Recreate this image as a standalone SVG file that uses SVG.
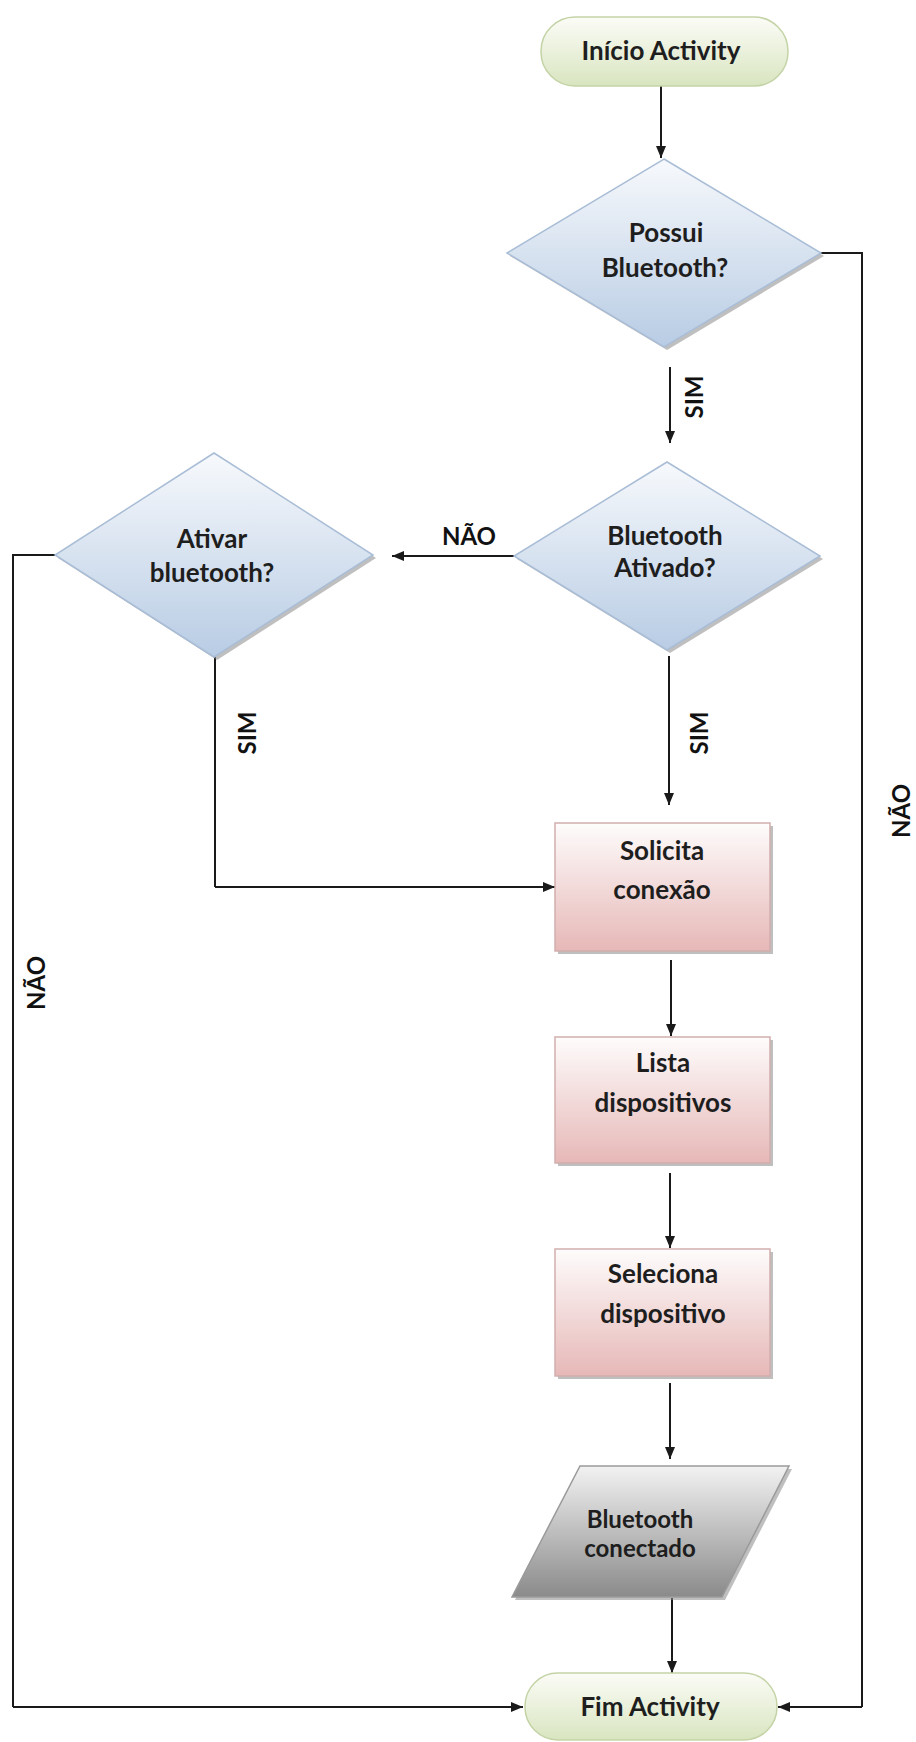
<svg xmlns="http://www.w3.org/2000/svg" width="916" height="1742" viewBox="0 0 916 1742">
<defs>
<linearGradient id="gTerm" x1="0" y1="0" x2="0" y2="1"><stop offset="0" stop-color="#fbfcf7"/><stop offset="1" stop-color="#d9e5c0"/></linearGradient>
<linearGradient id="gDia" x1="0" y1="0" x2="0" y2="1"><stop offset="0" stop-color="#f7f9fc"/><stop offset="1" stop-color="#b8cce4"/></linearGradient>
<linearGradient id="gRect" x1="0" y1="0" x2="0" y2="1"><stop offset="0" stop-color="#fefcfc"/><stop offset="1" stop-color="#e6b8b7"/></linearGradient>
<linearGradient id="gPar" x1="0" y1="0" x2="0" y2="1"><stop offset="0" stop-color="#f2f2f2"/><stop offset="1" stop-color="#8a8a8a"/></linearGradient>
<marker id="ah" viewBox="0 0 12 10" refX="12" refY="5" markerWidth="12" markerHeight="10" markerUnits="userSpaceOnUse" orient="auto"><path d="M0,0 L12,5 L0,10 z" fill="#1a1a1a"/></marker>
</defs>
<style>
.term{fill:url(#gTerm);stroke:#c4d3a6;stroke-width:1.5}
.dia{fill:url(#gDia);stroke:#a9bdd6;stroke-width:1.5}
.box{fill:url(#gRect);stroke:#d2aeae;stroke-width:1.5}
.par{fill:url(#gPar);stroke:#9a9a9a;stroke-width:1.5}
.sh{fill:#8a8a8a;opacity:.55}
.t{font-family:Lato,"Liberation Sans",sans-serif;font-weight:bold;font-size:26px;fill:#1e1e1e;text-anchor:middle}
.lbl{font-family:Lato,"Liberation Sans",sans-serif;font-weight:bold;font-size:24px;fill:#111;text-anchor:middle}
.c{fill:none;stroke:#1a1a1a;stroke-width:2}
.a{marker-end:url(#ah)}
</style>
<rect width="916" height="1742" fill="#ffffff"/>

<g id="connectors">
<path class="c a" d="M661,86 L661,158"/>
<path class="c" d="M821,253 L862,253 L862,1707"/>
<path class="c a" d="M862,1707 L778,1707"/>
<path class="c a" d="M670,367 L670,443"/>
<path class="c a" d="M514,556 L392,556"/>
<path class="c a" d="M669,656 L669,805"/>
<path class="c" d="M55,555 L13,555 L13,1707"/>
<path class="c a" d="M13,1707 L523,1707"/>
<path class="c" d="M215,657 L215,887"/>
<path class="c a" d="M215,887 L555,887"/>
<path class="c a" d="M671,960 L671,1036"/>
<path class="c a" d="M670,1173 L670,1248"/>
<path class="c a" d="M670,1383 L670,1459"/>
<path class="c a" d="M672,1598 L672,1673"/>
<text class="lbl" transform="translate(703,397) rotate(-90)">SIM</text>
<text class="lbl" transform="translate(708,733) rotate(-90)">SIM</text>
<text class="lbl" transform="translate(256,733) rotate(-90)">SIM</text>
<text class="lbl" x="469" y="545">NÃO</text>
<text class="lbl" transform="translate(910,811) rotate(-90)">NÃO</text>
<text class="lbl" transform="translate(45,983) rotate(-90)">NÃO</text>
</g>

<g id="start">
<rect class="term" x="541" y="17" width="247" height="69" rx="34"/>
<text class="t" x="661" y="60">Início Activity</text>
</g>

<g id="possui">
<polygon class="sh" points="667,162 824,256 667,350 510,256"/>
<polygon class="dia" points="664,159 821,253 664,347 507,253"/>
<text class="t" x="666" y="242">Possui</text>
<text class="t" x="665" y="277">Bluetooth?</text>
</g>

<g id="ativado">
<polygon class="sh" points="670,465 823,559 670,653 517,559"/>
<polygon class="dia" points="667,462 820,556 667,650 514,556"/>
<text class="t" x="665" y="545">Bluetooth</text>
<text class="t" x="665" y="577">Ativado?</text>
</g>

<g id="ativar">
<polygon class="sh" points="217,456 376,558 217,660 58,558"/>
<polygon class="dia" points="214,453 373,555 214,657 55,555"/>
<text class="t" x="212" y="548">Ativar</text>
<text class="t" x="212" y="582">bluetooth?</text>
</g>

<g id="solicita">
<rect class="sh" x="558" y="826" width="215" height="128"/>
<rect class="box" x="555" y="823" width="215" height="128"/>
<text class="t" x="662" y="860">Solicita</text>
<text class="t" x="662" y="899">conexão</text>
</g>

<g id="lista">
<rect class="sh" x="558" y="1040" width="215" height="126"/>
<rect class="box" x="555" y="1037" width="215" height="126"/>
<text class="t" x="663" y="1072">Lista</text>
<text class="t" x="663" y="1112">dispositivos</text>
</g>

<g id="seleciona">
<rect class="sh" x="558" y="1252" width="215" height="127"/>
<rect class="box" x="555" y="1249" width="215" height="127"/>
<text class="t" x="663" y="1283">Seleciona</text>
<text class="t" x="663" y="1323">dispositivo</text>
</g>

<g id="conectado">
<polygon class="sh" points="583,1469 792,1469 725,1600 515,1600"/>
<polygon class="par" points="580,1466 789,1466 722,1597 512,1597"/>
<text class="t" x="640" y="1528" style="font-size:24px">Bluetooth</text>
<text class="t" x="640" y="1557" style="font-size:24px">conectado</text>
</g>

<g id="fim">
<rect class="term" x="525" y="1673" width="252" height="67" rx="33"/>
<text class="t" x="650" y="1716">Fim Activity</text>
</g>
</svg>
